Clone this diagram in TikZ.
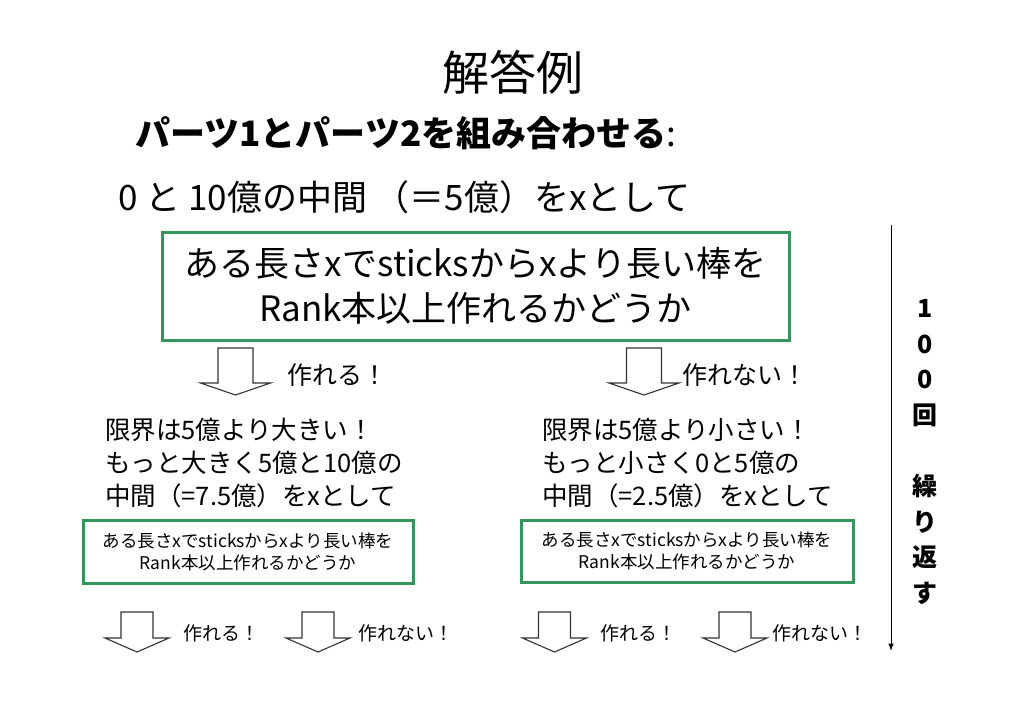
\documentclass[tikz,border=0pt]{standalone}
\usepackage{fontspec}
\setmainfont{Noto Sans CJK JP}
\usepackage{tikz}
\usetikzlibrary{arrows.meta, positioning, calc}
\definecolor{boxGreen}{RGB}{52,150,92}

% hollow down arrow: x, top, shaft half, head half, shaft end, tip
\newcommand{\blockdown}[6]{%
  \draw[blockline] (#1-#3,#2) -- (#1+#3,#2) -- (#1+#3,#5) -- (#1+#4,#5)
    -- (#1,#6) -- (#1-#4,#5) -- (#1-#3,#5) -- cycle;}
\newcommand{\fsz}[2]{\fontsize{#1}{#2}\selectfont}

\begin{document}
\begin{tikzpicture}[
      x=1pt, y=-1pt, >=Latex,
      testbox/.style={draw=boxGreen, line width=3pt, rectangle,
                      align=center, inner sep=0pt},
      blockline/.style={draw=black!80, line width=1.1pt},
      txt/.style={anchor=west, inner sep=0pt, align=left}
    ]
      \useasboundingbox (0,0) rectangle (1024,724);
      \node[font=\fsz{47}{50}] (title) at (513,72) {解答例};
      \node[txt, font=\fsz{35}{40}] (combine) at (135,133)
        {\bfseries パーツ1とパーツ2を組み合わせる\mdseries :};
      \node[txt, font=\fsz{35}{40}] (start) at (118,197)
        {0 と 10億の中間 （＝5億）をxとして};

      % first check
      \node[testbox, font=\fsz{35}{45}, minimum width=627, minimum height=108]
        (check) at (475.5,286)
        {ある長さxでsticksからxより長い棒を\\Rank本以上作れるかどうか};

      \blockdown{235.5}{348}{17.5}{35}{383}{395}
      \blockdown{644}{348}{17.5}{35}{383}{395}
      \node[txt, font=\fsz{25}{28}] (yes) at (287,375) {作れる！};
      \node[txt, font=\fsz{25}{28}] (no)  at (682,375) {作れない！};

      \node[txt, font=\fsz{25.5}{33}] (upper) at (105,463)
        {限界は5億より大きい！\\もっと大きく5億と10億の\\中間（=7.5億）をxとして};
      \node[txt, font=\fsz{25.5}{33}] (lower) at (542,463)
        {限界は5億より小さい！\\もっと小さく0と5億の\\中間（=2.5億）をxとして};

      \node[testbox, font=\fsz{17.5}{22}, minimum width=330, minimum height=63]
        (checkup) at (248,552)
        {ある長さxでsticksからxより長い棒を\\Rank本以上作れるかどうか};
      \node[testbox, font=\fsz{17.5}{22}, minimum width=332, minimum height=62]
        (checklow) at (687,551)
        {ある長さxでsticksからxより長い棒を\\Rank本以上作れるかどうか};

      \blockdown{137}{612}{16}{32}{638}{652}
      \blockdown{318}{612}{16}{32}{638}{652}
      \blockdown{554.5}{612}{16}{32}{638}{652}
      \blockdown{735}{612}{16}{32}{638}{652}
      \node[txt, font=\fsz{19}{22}] (upyes)  at (183,633) {作れる！};
      \node[txt, font=\fsz{19}{22}] (upno)   at (358,633) {作れない！};
      \node[txt, font=\fsz{19}{22}] (lowyes) at (600,633) {作れる！};
      \node[txt, font=\fsz{19}{22}] (lowno)  at (772,633) {作れない！};

      % repeat marker
      \coordinate (looptop) at (891,225);
      \coordinate (loopend) at (891,651);
      \draw[->, line width=1pt] (looptop) -- (loopend);
      \node[align=center, inner sep=0pt, font=\fsz{25}{35.6}\bfseries]
        (repeat) at (925,452) {1\\0\\0\\回\\\mbox{}\\繰\\り\\返\\す};
    \end{tikzpicture}
\end{document}
